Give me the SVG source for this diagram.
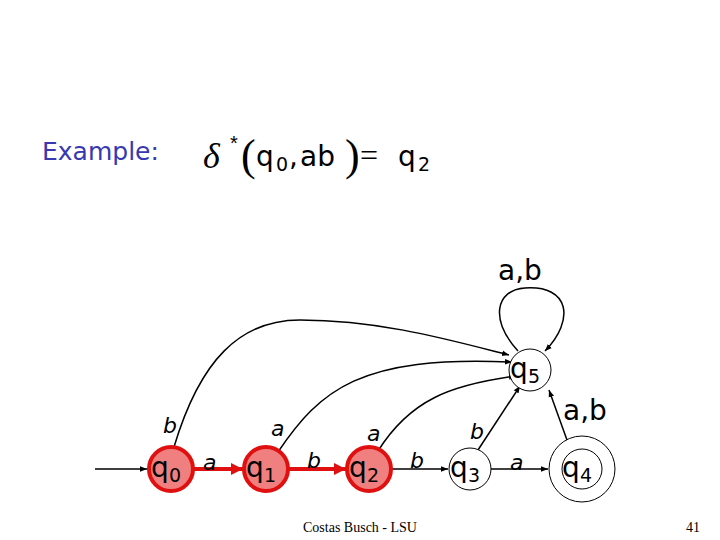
<svg xmlns="http://www.w3.org/2000/svg" width="720" height="540" viewBox="0 0 720 540">
<style>
.st{fill:#fff;stroke:#000;stroke-width:1}
.hl{fill:#f08080;stroke:#e01010;stroke-width:4}
.lb{font-family:"DejaVu Sans",sans-serif;font-size:28px;fill:#000}
.sb{font-family:"DejaVu Sans",sans-serif;font-size:19px;fill:#000}
.el{font-family:"DejaVu Sans",sans-serif;font-size:22px;fill:#000;font-style:italic}
.c{fill:none;stroke:#000;stroke-width:1.5}
.r{fill:none;stroke:#e01010;stroke-width:4}
</style>
<defs>
<marker id="ab" viewBox="0 0 10 10" refX="10" refY="5" markerWidth="7" markerHeight="7" orient="auto" markerUnits="userSpaceOnUse"><path d="M0,1L10,5L0,9z" fill="#000"/></marker>
<marker id="ar" viewBox="0 0 10 10" refX="10" refY="5" markerWidth="14" markerHeight="12" orient="auto" markerUnits="userSpaceOnUse"><path d="M0,0L10,5L0,10z" fill="#e01010"/></marker>
</defs>
<text x="42" y="160" font-family="DejaVu Sans,sans-serif" font-size="25" fill="#3838b0">Example:</text>
<text x="203" y="168" font-family="Liberation Serif,serif" font-size="36" font-style="italic">δ</text>
<text x="230" y="150" font-family="Liberation Sans,sans-serif" font-size="20">*</text>
<text x="241" y="170" font-family="Liberation Serif,serif" font-size="44">(</text>
<text x="256" y="166" class="lb" font-size="32">q</text>
<text x="276" y="171" class="sb">0</text>
<text x="289" y="166" class="lb" font-size="32">,</text>
<text x="300" y="166" class="lb" font-size="32">ab</text>
<text x="345" y="170" font-family="Liberation Serif,serif" font-size="44">)</text>
<text x="360" y="166" font-family="Liberation Serif,serif" font-size="32">=</text>
<text x="398" y="166" class="lb" font-size="32">q</text>
<text x="418" y="171" class="sb">2</text>
<g id="connectors">
<line x1="95" y1="469" x2="147" y2="469" class="c" marker-end="url(#ab)"/>
<line x1="193" y1="469" x2="243" y2="469" class="r" marker-end="url(#ar)"/>
<line x1="288" y1="469" x2="346" y2="469" class="r" marker-end="url(#ar)"/>
<line x1="391" y1="469" x2="448" y2="469" class="c" marker-end="url(#ab)"/>
<line x1="491" y1="469" x2="548" y2="469" class="c" marker-end="url(#ab)"/>
<path d="M174,447 C200,360 240,320 300,320 C380,320 450,340 509,355" class="c" marker-end="url(#ab)"/>
<path d="M278,452 C320,390 360,355 512,362" class="c" marker-end="url(#ab)"/>
<path d="M378,451 C410,400 450,385 516,376" class="c" marker-end="url(#ab)"/>
<path d="M478,450 L520,386" class="c" marker-end="url(#ab)"/>
<path d="M567,440 L549,390" class="c" marker-end="url(#ab)"/>
<path d="M518,351 C490,320 495,290 525,288 C570,285 575,320 545,351" class="c" marker-end="url(#ab)"/>
</g>
<text x="163" y="433" class="el">b</text>
<text x="203" y="470" class="el">a</text>
<text x="271" y="436" class="el">a</text>
<text x="307" y="468" class="el">b</text>
<text x="367" y="441" class="el">a</text>
<text x="410" y="468" class="el">b</text>
<text x="470" y="439" class="el">b</text>
<text x="510" y="470" class="el">a</text>
<text x="563" y="420" class="lb" font-size="25">a,b</text>
<text x="498" y="280" class="lb" font-size="25">a,b</text>
<g id="q0"><circle cx="171" cy="469" r="22" class="hl"/><text x="151" y="477" class="lb">q</text><text x="169" y="482" class="sb">0</text></g>
<g id="q1"><circle cx="266" cy="469" r="22" class="hl"/><text x="246" y="477" class="lb">q</text><text x="264" y="482" class="sb">1</text></g>
<g id="q2"><circle cx="369" cy="469" r="22" class="hl"/><text x="349" y="477" class="lb">q</text><text x="367" y="482" class="sb">2</text></g>
<g id="q3"><circle cx="470" cy="469" r="21" class="st"/><text x="450" y="477" class="lb">q</text><text x="468" y="482" class="sb">3</text></g>
<g id="q4"><circle cx="582" cy="469" r="33" class="st"/><circle cx="582" cy="469" r="20" class="st"/><text x="562" y="477" class="lb">q</text><text x="580" y="482" class="sb">4</text></g>
<g id="q5"><circle cx="530" cy="370" r="21" class="st"/><text x="510" y="378" class="lb">q</text><text x="528" y="383" class="sb">5</text></g>
<text x="360" y="532" text-anchor="middle" font-family="Liberation Serif,serif" font-size="14">Costas Busch - LSU</text>
<text x="693" y="532" text-anchor="middle" font-family="Liberation Serif,serif" font-size="14">41</text>
</svg>
